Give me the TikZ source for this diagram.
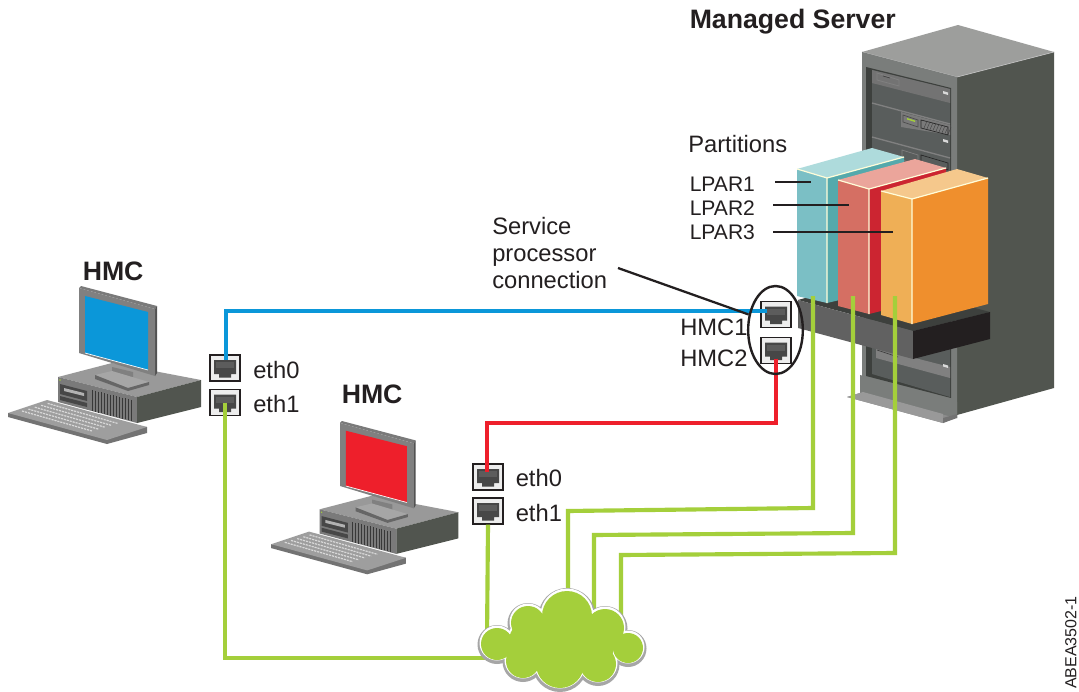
\documentclass[tikz,border=0pt]{standalone}
\usepackage{fontspec}
\usetikzlibrary{calc,shapes.geometric}
\setmainfont{Liberation Sans}
\definecolor{ink}{HTML}{231F20}
\definecolor{cgreen}{HTML}{A4CF3B}
\definecolor{cblue}{HTML}{0B97D9}
\definecolor{cred}{HTML}{EE1F2B}
\definecolor{frameg}{HTML}{7A7D7B}
\definecolor{panelg}{HTML}{595D5C}
\definecolor{darkg}{HTML}{3D403D}
\definecolor{sideg}{HTML}{51554F}
\definecolor{topg}{HTML}{9D9E9C}
\definecolor{lparA}{HTML}{7BBFC5}\definecolor{lparAt}{HTML}{AEDBDC}\definecolor{lparAs}{HTML}{55A9AC}
\definecolor{lparB}{HTML}{D56F63}\definecolor{lparBt}{HTML}{EBA59B}\definecolor{lparBs}{HTML}{CC2531}
\definecolor{lparC}{HTML}{EFAF56}\definecolor{lparCt}{HTML}{F5C88C}\definecolor{lparCs}{HTML}{EF8F2D}
\tikzset{
  label18/.style={font=\fontsize{17.8pt}{20pt}\selectfont,text=ink,anchor=base west,inner sep=0pt},
  label16/.style={font=\fontsize{15.8pt}{18pt}\selectfont,text=ink,anchor=base west,inner sep=0pt},
  titlebold/.style={font=\fontsize{20pt}{22pt}\selectfont\bfseries,text=ink,anchor=base west,inner sep=0pt},
  jackbox/.style={draw=ink,line width=0.8pt,fill=black!7,minimum width=22.5pt,minimum height=19.5pt,inner sep=0pt},
  cable/.style={line width=3.1pt,line join=miter},
  leader/.style={draw=ink,line width=0.8pt},
  hl/.style={draw=white!85!yellow,line width=0.9pt}
}
\newcommand{\jackglyph}[1]{%
  \fill[black!72] ([shift={(-11,-8)}]#1.center) -- ++(22,0) -- ++(0,14) -- ++(-5,0) -- ++(0,3.5) -- ++(-12,0) -- ++(0,-3.5) -- ++(-5,0) -- cycle;
  \fill[black!64] ([shift={(-9,-6)}]#1.center) -- ++(18,0) -- ++(0,6) -- ++(-18,0) -- cycle;
}
\newcommand{\drawpc}[1]{%
  % keyboard
  \fill[black!55] (8,413) -- (8,417) -- (107,444) -- (147,433) -- (147,427) -- cycle;
  \fill[black!38] (8,413) -- (47,400) -- (147,427) -- (107,440) -- cycle;
  \foreach \i in {0,1,2,3,4}{
    \draw[white!85!black,line width=0.9pt,dash pattern=on 1.6pt off 0.7pt]
      ($(22,411)+\i*(6.4,-1.9)$) -- ($(92,431)+\i*(6.4,-1.9)$);
  }
  % case
  \fill[black!40] (58,377) -- (112,363) -- (201,380) -- (137,397) -- cycle;
  \fill[black!52] (58,377) -- (137,397) -- (137,423) -- (58,402) -- cycle;
  \fill[sideg] (137,397) -- (201,380) -- (201,407) -- (137,423) -- cycle;
  \fill[black!72] (60,384) -- (87,391) -- (87,401) -- (60,394) -- cycle;
  \fill[black!72] (60,396) -- (87,403) -- (87,407) -- (60,400) -- cycle;
  \fill[black!30] (64,388) -- (84,393) -- (84,396) -- (64,391) -- cycle;
  \foreach \i in {0,...,13}{
    \draw[black!78,line width=0.5pt] ($(92,390)+\i*(3,0.76)$) -- ++(0,21);
  }
  \fill[cgreen] (60,380) circle (0.8);
  % stand
  \fill[black!50] (112,367) -- (133,372) -- (133,384) -- (112,379) -- cycle;
  \fill[black!35] (95,375) -- (112,371) -- (149,382) -- (128,388) -- cycle;
  \fill[black!60] (95,375) -- (128,388) -- (149,382) -- (149,385) -- (128,391) -- (95,379) -- cycle;
  % monitor
  \fill[black!52] (79,288) -- (81,286) -- (157,306) -- (155,309) -- cycle;
  \fill[black!68] (155,309) -- (157,306) -- (157,373) -- (155,376) -- cycle;
  \fill[black!50] (79,288) -- (155,309) -- (155,376) -- (79,353) -- cycle;
  \fill[#1] (85,296) -- (148,312) -- (148,370) -- (85,353) -- cycle;
  \draw[white,line width=0.5pt] (85,353) -- (148,370);
}
\newcommand{\cloudbumps}[3]{%
  \foreach \cx/\cy/\r in {497/643/17,528/622/18,567/615/26,605/627/20,628/647/16,560/663/25,523/660/18,598/663/19,560/640/30,590/645/25,530/640/22}{
    \fill[#1] (\cx,\cy+#2) circle[radius={(\r+#3)*0.75pt}];
  }
}
\begin{document}
\begin{tikzpicture}[x=0.75pt,y=-0.75pt]
\useasboundingbox (0,0) rectangle (1079,692);
\fill[white] (0,0) rectangle (1079,692);

% ---- rack ----
\fill[black!45] (847,397) -- (863,392) -- (957,417) -- (943,423) -- cycle;
\fill[sideg] (957,77) -- (1054,52) -- (1054,388) -- (957,415) -- cycle;
\fill[topg] (862,52) -- (958,25) -- (1054,52) -- (957,77) -- cycle;
\draw[white!75!black,line width=0.5pt] (862,52) -- (957,77) -- (1054,52);
\fill[frameg] (862,52) -- (957,77) -- (957,418) -- (862,393) -- cycle;
\fill[darkg] (866,67) -- (951,88) -- (951,398) -- (866,376) -- cycle;
\fill[panelg] (872,70) -- (950,89) -- (950,397) -- (872,374) -- cycle;
\fill[black!55] (872,70) -- (950,89) -- (950,103) -- (872,83) -- cycle;
\draw[black!50,line width=0.6pt] (877,73) -- (899,80) -- (899,86) -- (877,80) -- cycle;
\draw[black!75,line width=0.5pt] (883,76) -- (890,78);
\fill[white!85!black] (943,91) -- (948,92.5) -- (948,95) -- (943,93.5) -- cycle;
\draw[black!50,line width=1pt] (872,103) -- (950,124);
\fill[black!52] (901,112) -- (950,125) -- (950,135) -- (901,127) -- cycle;
\draw[black!70,line width=0.5pt] (903,115) -- (918,120) -- (918,127) -- (903,122) -- cycle;
\fill[cgreen] (907,118) -- (915,120.5) -- (915,122) -- (907,119.5) -- cycle;
\draw[black!85,line width=0.5pt] (921,120) -- (948,127) -- (948,135) -- (921,128) -- cycle;
\foreach \i in {0,...,8}{\draw[black!75,line width=0.3pt] ($(924,128)+\i*(3,0.8)$) -- ++(3,-7);}
\draw[black!50,line width=1pt] (872,137) -- (950,158);
\fill[white!85!black] (943,139) -- (948,140.5) -- (948,143) -- (943,141.5) -- cycle;
\draw[black!50,line width=0.5pt] (902,150) -- (918,155) -- (918,165) -- (902,160) -- cycle;
\draw[black!85,line width=0.5pt] (921,155) -- (948,163) -- (948,170) -- (921,163) -- cycle;
% lower part of rack under the shelf
\fill[black!50] (876,348) -- (950,367) -- (950,378) -- (876,358) -- cycle;
\draw[black!75,line width=0.5pt] (877,350) -- (898,357);
\fill[white!85!black] (943,364) -- (948,365.5) -- (948,368) -- (943,366.5) -- cycle;
% plinth
\fill[frameg] (860,375) -- (957,402) -- (957,418) -- (860,393) -- cycle;
\fill[black!40] (847,397) -- (863,392) -- (943,414) -- (943,423) -- cycle;
\fill[black!55] (943,418) -- (957,414) -- (957,418) -- (943,423) -- cycle;

% ---- shelf ----
\fill[darkg] (798,300) -- (870,280) -- (990,312) -- (913,331) -- cycle;
\fill[black!62] (798,300) -- (913,331) -- (913,359) -- (798,328) -- cycle;
\fill[ink] (913,331) -- (990,312) -- (990,339) -- (913,359) -- cycle;

% ---- partitions ----
% LPAR 1
\fill[lparAs] (827,178) -- (904,157) -- (904,285) -- (827,303) -- cycle;
\fill[lparAt] (797,169) -- (872,148) -- (904,157) -- (827,178) -- cycle;
\fill[lparA] (797,169) -- (827,178) -- (827,303) -- (797,296) -- cycle;
\draw[hl] (797,169) -- (827,178) -- (904,157) (827,178) -- (827,303);
% LPAR 2
\fill[lparBs] (869,189) -- (946,168) -- (946,295) -- (869,314) -- cycle;
\fill[lparBt] (838,180) -- (915,159) -- (946,168) -- (869,189) -- cycle;
\fill[lparB] (838,180) -- (869,189) -- (869,314) -- (838,306) -- cycle;
\draw[hl] (838,180) -- (869,189) -- (946,168) (869,189) -- (869,314);
% LPAR 3
\fill[lparCs] (912,199) -- (988,178) -- (988,304) -- (912,324) -- cycle;
\fill[lparCt] (881,191) -- (957,169) -- (988,178) -- (912,199) -- cycle;
\fill[lparC] (881,191) -- (912,199) -- (912,324) -- (881,315) -- cycle;
\draw[hl] (881,191) -- (912,199) -- (988,178) (912,199) -- (912,324);

% ---- computers ----
\drawpc{cblue}
\begin{scope}[shift={(263.4,143.6)},scale=0.97]
\drawpc{cred}
\end{scope}

% ---- text ----
\node[titlebold] (tserver) at (689.5,29) {Managed Server};
\node[titlebold] (thmca) at (82.5,280) {HMC};
\node[titlebold] (thmcb) at (341.5,403) {HMC};
\node[label18] (tpart) at (688,152) {Partitions};
\node[label16] (tl1) at (689.5,191) {LPAR1};
\node[label16] (tl2) at (689.5,215) {LPAR2};
\node[label16] (tl3) at (689.5,239) {LPAR3};
\node[label18] (ts1) at (492,234.5) {Service};
\node[label18] (ts2) at (492,261.5) {processor};
\node[label18] (ts3) at (492,288) {connection};
\node[label18] (th1) at (680,335) {HMC1};
\node[label18] (th2) at (680,366) {HMC2};
\node[label18] (ea0) at (253,378) {eth0};
\node[label18] (ea1) at (253,412) {eth1};
\node[label18] (eb0) at (515.5,486) {eth0};
\node[label18] (eb1) at (515.5,521) {eth1};
\node[font=\fontsize{12pt}{14pt}\selectfont,text=ink,rotate=90,anchor=north east,inner sep=0pt] (tid) at (1065,596) {ABEA3502-1};

% ---- leaders ----
\coordinate (la1) at (775,182); \coordinate (lb1) at (811,182);
\coordinate (la2) at (773,205); \coordinate (lb2) at (849,205);
\coordinate (la3) at (773,232); \coordinate (lb3) at (893,232);
\draw[leader] (la1) -- (lb1);
\draw[leader] (la2) -- (lb2);
\draw[leader] (la3) -- (lb3);

% ---- ports ----
\node[jackbox] (pa0) at (225,368) {};
\node[jackbox] (pa1) at (225,402.5) {};
\node[jackbox] (pb0) at (488,477) {};
\node[jackbox] (pb1) at (488,511) {};
\node[jackbox] (ph1) at (776,314.5) {};
\node[jackbox] (ph2) at (776,350.5) {};
\jackglyph{pa0}\jackglyph{pa1}\jackglyph{pb0}\jackglyph{pb1}\jackglyph{ph1}\jackglyph{ph2}

% ---- cloud anchor and cables ----
\node[minimum width=120pt,minimum height=75pt,inner sep=0pt] (cloud) at (562,640) {};
\coordinate (g1) at (813,296);
\coordinate (g2) at (853,296);
\coordinate (g3) at (895,296);
\coordinate (c1) at (568,640);
\coordinate (c2) at (594,640);
\coordinate (c3) at (621,640);
\coordinate (c4) at (487,640);
\coordinate (c5) at (510,658);
\coordinate (jblue) at (767,311);
\draw[cable,cgreen] (g1) -- (813,508) -- (568,511) -- (c1);
\draw[cable,cgreen] (g2) -- (853,533) -- (594,535) -- (c2);
\draw[cable,cgreen] (g3) -- (895,553) -- (621,555) -- (c3);
\draw[cable,cgreen] (pb1.south) -- (c4);
\draw[cable,cgreen] (pa1.center) -- (225,658) -- (c5);
\draw[cable,cblue] ([shift={(1,-8)}]pa0.center) -- (226,311) -- (jblue);
\draw[cable,cred] ([yshift=4pt]ph2.south) -- (776,423) -- (487,423) -- ([shift={(-1,-5)}]pb0.center);

% ---- service processor ellipse and line ----
\node[draw=ink,line width=1.8pt,ellipse,minimum width=41pt,minimum height=66pt,inner sep=0pt] (spe) at (775.5,330) {};
\coordinate (sps) at (618,268);
\draw[ink,line width=1.7pt] (sps) -- (spe.150);

% ---- cloud ----
\cloudbumps{black!35}{1.5}{2.5}
\cloudbumps{white}{0}{0.5}
\cloudbumps{cgreen}{1}{-1}
\end{tikzpicture}
\end{document}
